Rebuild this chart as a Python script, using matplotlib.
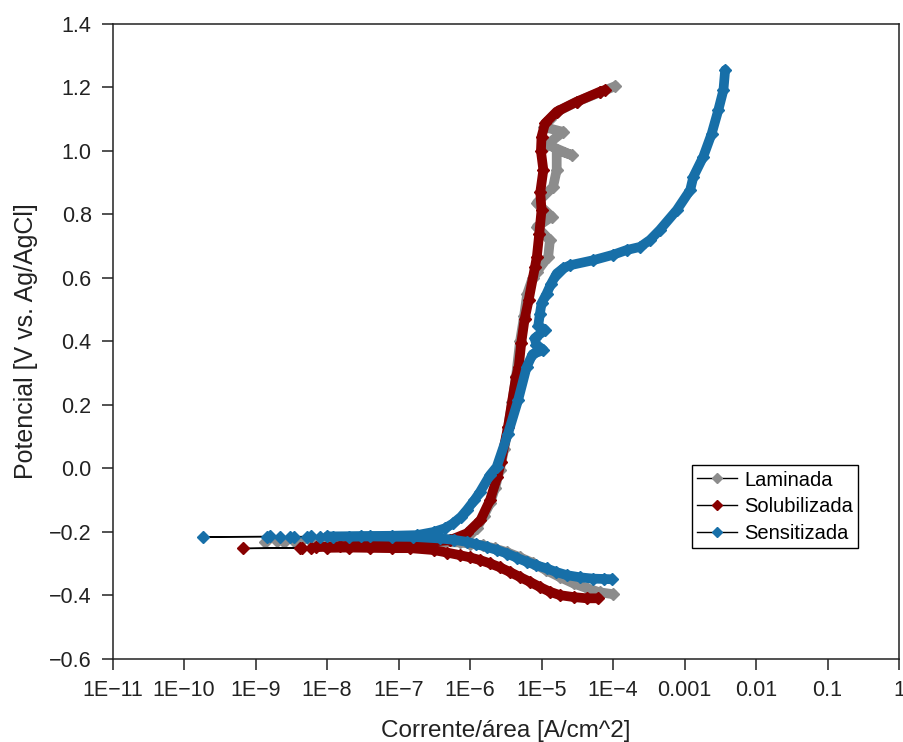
import numpy as np
import matplotlib.pyplot as plt
from matplotlib.lines import Line2D
from matplotlib.ticker import FuncFormatter, NullLocator

plt.rcParams['font.family'] = ['Liberation Sans', 'DejaVu Sans']

# --- Laminada (gray) ---
lam_cat_i = [1.0e-4, 6.5e-5, 4.3e-5, 2.8e-5, 1.8e-5, 1.15e-5, 7.6e-6, 5.0e-6, 3.3e-6, 2.2e-6,
             1.5e-6, 1.0e-6, 7.2e-7, 4.0e-7, 2.0e-7, 1.0e-7, 5.5e-8, 3.0e-8, 1.5e-8]
lam_cat_E = [-0.396, -0.390, -0.377, -0.362, -0.342, -0.320, -0.298, -0.280, -0.264, -0.252,
             -0.242, -0.237, -0.233, -0.232, -0.231, -0.233, -0.235, -0.238, -0.240]
lam_low_i = [8.0e-9, 4.2e-9, 2.5e-9, 1.35e-9, 2.0e-9, 3.5e-9]
lam_low_E = [-0.236, -0.233, -0.232, -0.231, -0.229, -0.228]
lam_an_i = [6.0e-9, 1.5e-8, 5.0e-8, 2.0e-7, 4.5e-7, 7.2e-7, 1.0e-6, 1.25e-6, 1.55e-6, 1.9e-6,
            2.25e-6, 2.6e-6, 3.0e-6, 3.4e-6, 3.9e-6, 4.4e-6, 5.0e-6, 5.7e-6, 6.3e-6, 7.5e-6,
            8.6e-6, 1.24e-5, 1.31e-5, 8.6e-6, 1.39e-5, 8.6e-6, 1.45e-5, 1.63e-5, 1.63e-5, 2.64e-5,
            1.2e-5, 2.0e-5, 1.1e-5, 1.3e-5, 1.7e-5, 3.1e-5, 6.6e-5, 1.07e-4]
lam_an_E = [-0.228, -0.227, -0.226, -0.225, -0.224, -0.220, -0.205, -0.187, -0.150, -0.110,
            -0.060, -0.005, 0.060, 0.130, 0.210, 0.290, 0.400, 0.480, 0.550, 0.600,
            0.620, 0.667, 0.719, 0.761, 0.793, 0.836, 0.887, 0.940, 1.003, 0.987,
            1.020, 1.060, 1.075, 1.100, 1.125, 1.155, 1.185, 1.204]

# --- Solubilizada (dark red) ---
sol_cat_i = [6.2e-5, 4.3e-5, 2.8e-5, 1.8e-5, 1.3e-5, 9.6e-6, 7.0e-6, 5.0e-6, 3.6e-6, 2.6e-6,
             1.9e-6, 1.4e-6, 1.0e-6, 7.2e-7, 4.8e-7, 3.1e-7, 1.45e-7, 8.0e-8, 4.0e-8, 2.0e-8, 1.0e-8]
sol_cat_E = [-0.409, -0.409, -0.405, -0.399, -0.388, -0.374, -0.358, -0.342, -0.326, -0.311,
             -0.299, -0.289, -0.280, -0.273, -0.265, -0.257, -0.251, -0.251, -0.250, -0.249, -0.250]
sol_low_i = [6.0e-9, 4.2e-9, 6.7e-10, 4.5e-9]
sol_low_E = [-0.250, -0.251, -0.252, -0.249]
sol_an_i = [7.0e-9, 1.5e-8, 5.0e-8, 1.5e-7, 3.0e-7, 5.2e-7, 9.1e-7, 1.4e-6, 1.9e-6, 2.4e-6,
            2.7e-6, 3.4e-6, 4.4e-6, 4.8e-6, 5.2e-6, 5.8e-6, 6.6e-6, 8.1e-6, 8.6e-6, 9.3e-6,
            1.0e-5, 9.6e-6, 1.06e-5, 9.8e-6, 1.0e-5, 1.12e-5, 1.63e-5, 3.1e-5, 6.6e-5, 7.7e-5]
sol_an_E = [-0.248, -0.245, -0.240, -0.235, -0.230, -0.226, -0.204, -0.163, -0.100, -0.028,
            0.020, 0.131, 0.289, 0.320, 0.395, 0.470, 0.530, 0.635, 0.667, 0.740,
            0.814, 0.870, 0.940, 1.000, 1.045, 1.087, 1.124, 1.155, 1.187, 1.192]

# --- Sensitizada (blue) ---
sen_cat_i = [9.6e-5, 7.5e-5, 5.3e-5, 3.5e-5, 2.25e-5, 1.6e-5, 1.18e-5, 8.5e-6, 6.2e-6, 4.5e-6,
             3.3e-6, 2.4e-6, 1.7e-6, 1.2e-6, 9.0e-7, 6.0e-7, 3.8e-7, 1.6e-7, 8.0e-8, 4.0e-8, 2.0e-8]
sen_cat_E = [-0.349, -0.348, -0.347, -0.343, -0.336, -0.326, -0.315, -0.305, -0.294, -0.281,
             -0.268, -0.257, -0.247, -0.238, -0.231, -0.225, -0.2205, -0.2155, -0.215, -0.214, -0.215]
sen_low_i = [1.2e-8, 8.0e-9, 5.2e-9, 3.4e-9, 2.2e-9, 1.45e-9, 1.85e-10, 1.6e-9, 3.0e-9, 6.0e-9]
sen_low_E = [-0.216, -0.215, -0.216, -0.215, -0.216, -0.215, -0.2155, -0.214, -0.215, -0.214]
sen_an_i = [1.0e-8, 3.0e-8, 8.0e-8, 1.8e-7, 3.1e-7, 4.5e-7, 5.8e-7, 7.5e-7, 9.0e-7, 1.15e-6,
            1.38e-6, 1.9e-6, 2.36e-6, 3.4e-6, 4.7e-6, 6.2e-6, 7.5e-6, 1.06e-5, 8.5e-6, 8.0e-6,
            1.12e-5, 9.0e-6, 9.5e-6, 1.0e-5, 1.18e-5, 1.35e-5, 1.63e-5, 2.0e-5, 2.5e-5, 5.3e-5,
            1.0e-4, 1.55e-4, 2.4e-4, 3.3e-4, 4.5e-4, 7.8e-4, 1.2e-3, 1.33e-3, 1.83e-3, 2.4e-3,
            2.97e-3, 3.5e-3, 3.7e-3]
sen_an_E = [-0.214, -0.213, -0.212, -0.210, -0.200, -0.188, -0.173, -0.152, -0.131, -0.100,
            -0.074, -0.021, 0.005, 0.110, 0.215, 0.320, 0.360, 0.373, 0.390, 0.410,
            0.436, 0.450, 0.488, 0.520, 0.551, 0.580, 0.614, 0.630, 0.640, 0.656,
            0.673, 0.688, 0.698, 0.720, 0.751, 0.814, 0.877, 0.919, 0.982, 1.055,
            1.129, 1.192, 1.255]

series_names = ['Laminada', 'Solubilizada', 'Sensitizada']
series_colors = ['#8c8c8c', '#880000', '#176fa8']

x_ticks = [1e-11, 1e-10, 1e-9, 1e-8, 1e-7, 1e-6, 1e-5, 1e-4, 1e-3, 1e-2, 1e-1, 1]
x_ticklabels = ['1E\u221211', '1E\u221210', '1E\u22129', '1E\u22128', '1E\u22127', '1E\u22126',
                '1E\u22125', '1E\u22124', '0.001', '0.01', '0.1', '1']

#%%
fig = plt.figure(figsize=(9.04, 7.42), dpi=100)
ax = fig.add_axes([0.1245, 0.1119, 0.870, 0.8558])

curvas = [
    (lam_cat_i, lam_cat_E, lam_low_i, lam_low_E, lam_an_i, lam_an_E),
    (sol_cat_i, sol_cat_E, sol_low_i, sol_low_E, sol_an_i, sol_an_E),
    (sen_cat_i, sen_cat_E, sen_low_i, sen_low_E, sen_an_i, sen_an_E),
]

for k, (curva, color) in enumerate(zip(curvas, series_colors)):
    ci, cE, li, lE, ai, aE = curva
    todo_i = ci + li + ai
    todo_E = cE + lE + aE
    z = 2 + k
    # linea negra que une los puntos
    ax.plot(todo_i, todo_E, color='black', lw=1, zorder=z)
    # tramos densos de marcadores
    for xi, yi in [(ci, cE), (ai, aE)]:
        ax.plot(xi, yi, color=color, lw=7, solid_joinstyle='round',
                solid_capstyle='round', zorder=z + 0.1)
    ax.plot(todo_i, todo_E, ls='none', marker='D', ms=6, color=color, zorder=z + 0.2)

ax.set_xscale('log')
ax.set_xlim(1e-11, 1)
ax.set_ylim(-0.6, 1.4)
ax.set_xticks(x_ticks, x_ticklabels)
ax.xaxis.set_minor_locator(NullLocator())
ax.set_yticks(np.arange(-0.6, 1.41, 0.2))
ax.yaxis.set_major_formatter(FuncFormatter(
    lambda v, p: f'{v:.1f}'.replace('-0.0', '0.0').replace('-', '\u2212')))

ax.tick_params(direction='out', length=8, width=1.1, labelsize=15.5,
               colors='#222222', pad=7)
for s in ax.spines.values():
    s.set_linewidth(1.1)
    s.set_color('#222222')

ax.set_xlabel('Corrente/área [A/cm^2]', fontsize=17.5, color='#222222', labelpad=14)
ax.set_ylabel('Potencial [V vs. Ag/AgCl]', fontsize=18, color='#222222', labelpad=8)

handles = [Line2D([], [], color='black', lw=1, marker='D', ms=5,
                  markerfacecolor=c, markeredgecolor=c) for c in series_colors]
leg = ax.legend(handles, series_names, loc='lower left', bbox_to_anchor=(0.737, 0.175),
                borderaxespad=0, fontsize=14.5, fancybox=False, framealpha=1,
                edgecolor='black', handlelength=2.0, handletextpad=0.35,
                labelspacing=0.38, borderpad=0.25)
leg.get_frame().set_linewidth(1)

fig.savefig('out.png', dpi=100)
